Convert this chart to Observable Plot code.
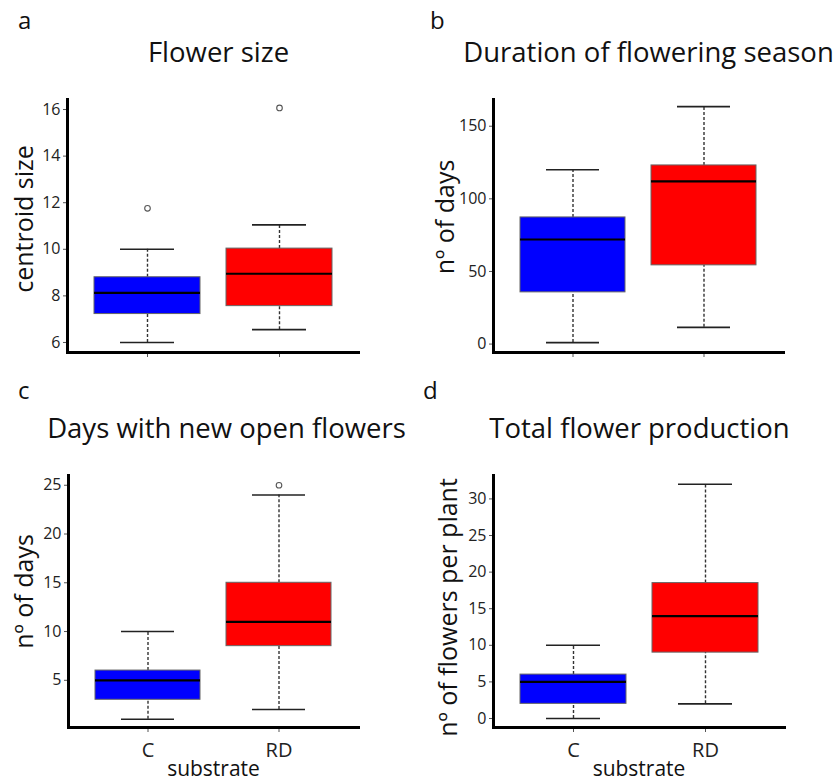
<!DOCTYPE html>
<html>
<head>
<meta charset="utf-8">
<script src="https://cdn.jsdelivr.net/npm/d3@7"></script>
<script src="https://cdn.jsdelivr.net/npm/@observablehq/plot@0.6"></script>
<style>
  html, body { margin: 0; padding: 0; background: #fff; }
  #root { position: relative; width: 837px; height: 782px; overflow: hidden; font-family: "Open Sans", sans-serif; color: #111; }
  .lbl { position: absolute; font-size: 24px; line-height: 24px; white-space: nowrap; }
  .ttl { position: absolute; font-size: 27.5px; line-height: 27.5px; width: 440px; text-align: center; white-space: nowrap; }
  .pnl { position: absolute; }
</style>
</head>
<body>
<div id="root"></div>
<script>
// ---- data ----
const groups = ["C", "RD"];
const groupColors = ["#0000ff", "#ff0000"];

// a: Flower size (centroid size)
const sizeLow = [6.0, 6.55];
const sizeQ1 = [7.22, 7.56];
const sizeMedian = [8.13, 8.95];
const sizeQ3 = [8.8, 10.03];
const sizeHigh = [10.0, 11.05];
const sizeOutlierGroups = ["C", "RD"];
const sizeOutliers = [11.76, 16.07];
const sizeTicks = [6, 8, 10, 12, 14, 16];

// b: Duration of flowering season (days)
const durLow = [1, 11.5];
const durQ1 = [35.6, 54.2];
const durMedian = [72, 112];
const durQ3 = [87.2, 123];
const durHigh = [120, 163.5];
const durOutlierGroups = [];
const durOutliers = [];
const durTicks = [0, 50, 100, 150];

// c: Days with new open flowers
const newLow = [1, 2];
const newQ1 = [3, 8.5];
const newMedian = [5, 11];
const newQ3 = [6, 15];
const newHigh = [10, 24];
const newOutlierGroups = ["RD"];
const newOutliers = [25];
const newTicks = [5, 10, 15, 20, 25];

// d: Total flower production (flowers per plant)
const totLow = [0, 2];
const totQ1 = [2, 9];
const totMedian = [5, 14];
const totQ3 = [6, 18.5];
const totHigh = [10, 32];
const totOutlierGroups = [];
const totOutliers = [];
const totTicks = [0, 5, 10, 15, 20, 25, 30];

// ---- drawing ----
function rowsOf(lo, q1, med, q3, hi) {
  return groups.map((g, i) => ({g, color: groupColors[i], lo: lo[i], q1: q1[i], med: med[i], q3: q3[i], hi: hi[i]}));
}
function outliersOf(gs, vs) {
  return gs.map((g, i) => ({g, v: vs[i]}));
}

function panel(cfg) {
  const rows = rowsOf(...cfg.stats);
  const outs = outliersOf(...cfg.outliers);
  return Plot.plot({
    width: cfg.width,
    height: cfg.height,
    marginLeft: cfg.ml, marginRight: cfg.mr, marginTop: cfg.mt, marginBottom: cfg.mb,
    style: {fontFamily: "'Open Sans', sans-serif", background: "transparent", overflow: "visible", color: "#222"},
    x: {type: "band", domain: groups, padding: 0.2, label: null},
    y: {domain: cfg.domain, label: null},
    color: {type: "identity"},
    marks: [
      Plot.ruleX(rows, {x: "g", y1: "q3", y2: "hi", stroke: "#333", strokeWidth: 1.4, strokeDasharray: "3,2"}),
      Plot.ruleX(rows, {x: "g", y1: "lo", y2: "q1", stroke: "#333", strokeWidth: 1.4, strokeDasharray: "3,2"}),
      Plot.tickY(rows, {x: "g", y: "hi", insetLeft: 26, insetRight: 26, stroke: "#222", strokeWidth: 1.6}),
      Plot.tickY(rows, {x: "g", y: "lo", insetLeft: 26, insetRight: 26, stroke: "#222", strokeWidth: 1.6}),
      Plot.barY(rows, {x: "g", y1: "q1", y2: "q3", fill: "color", stroke: "#666", strokeWidth: 1}),
      Plot.tickY(rows, {x: "g", y: "med", stroke: "#000", strokeWidth: 2.2}),
      Plot.dot(outs, {x: "g", y: "v", r: 2.8, fill: "#fff", stroke: "#555", strokeWidth: 1.1}),
      Plot.axisY(cfg.ticks, {tickSize: 4, tickPadding: 3, fontSize: 16, stroke: "#555", fill: "#222", label: null}),
      Plot.axisX({tickSize: 5, tickPadding: 10, fontSize: 20, stroke: "#555", fill: "#222", label: null,
                  tickFormat: cfg.xLabels ? (d) => d : () => ""}),
      Plot.frame({anchor: "left", stroke: "#000", strokeWidth: 3}),
      Plot.frame({anchor: "bottom", stroke: "#000", strokeWidth: 3}),
      Plot.text([cfg.yLabel], {frameAnchor: "left", textAnchor: "middle", rotate: -90, dx: cfg.ldx, dy: cfg.ldy, fontSize: 25, fill: "#111"}),
      ...(cfg.xTitle ? [Plot.text([cfg.xTitle], {frameAnchor: "bottom", textAnchor: "middle", dy: 48, fontSize: 21, fill: "#111"})] : [])
    ]
  });
}

const root = document.getElementById("root");
function addDiv(cls, text, left, top) {
  const d = document.createElement("div");
  d.className = cls;
  d.textContent = text;
  d.style.left = left + "px";
  d.style.top = top + "px";
  root.appendChild(d);
}
function addPanel(svg, left, top) {
  const w = document.createElement("div");
  w.className = "pnl";
  w.style.left = left + "px";
  w.style.top = top + "px";
  w.appendChild(svg);
  root.appendChild(w);
}

// letters and titles
addDiv("lbl", "a", 18, 8);
addDiv("lbl", "b", 430, 8);
addDiv("lbl", "c", 18, 378);
addDiv("lbl", "d", 423, 378);
addDiv("ttl", "Flower size", 218.5 - 220, 38);
addDiv("ttl", "Duration of flowering season", 648.5 - 220, 38);
addDiv("ttl", "Days with new open flowers", 226.5 - 220, 414);
addDiv("ttl", "Total flower production", 639.5 - 220, 414);

addPanel(panel({
  width: 415, height: 290, ml: 67, mr: 57, mt: 9, mb: 28,
  domain: [5.57, 16.43], ticks: sizeTicks,
  stats: [sizeLow, sizeQ1, sizeMedian, sizeQ3, sizeHigh],
  outliers: [sizeOutlierGroups, sizeOutliers],
  yLabel: "centroid size", ldx: -43, ldy: -7, xLabels: false
}), 0, 90);

addPanel(panel({
  width: 417, height: 290, ml: 73, mr: 54, mt: 9, mb: 28,
  domain: [-5.8, 168.4], ticks: durTicks,
  stats: [durLow, durQ1, durMedian, durQ3, durHigh],
  outliers: [durOutlierGroups, durOutliers],
  yLabel: "nº of days", ldx: -48, ldy: -9, xLabels: false
}), 420, 90);

addPanel(panel({
  width: 415, height: 317, ml: 68, mr: 57, mt: 10, mb: 55,
  domain: [0.16, 26.0], ticks: newTicks,
  stats: [newLow, newQ1, newMedian, newQ3, newHigh],
  outliers: [newOutlierGroups, newOutliers],
  yLabel: "nº of days", ldx: -44, ldy: -10, xLabels: true, xTitle: "substrate"
}), 0, 465);

addPanel(panel({
  width: 417, height: 317, ml: 73, mr: 53, mt: 10, mb: 55,
  domain: [-1.23, 33.2], ticks: totTicks,
  stats: [totLow, totQ1, totMedian, totQ3, totHigh],
  outliers: [totOutlierGroups, totOutliers],
  yLabel: "nº of flowers per plant", ldx: -45, ldy: 6, xLabels: true, xTitle: "substrate"
}), 420, 465);
</script>
</body>
</html>
